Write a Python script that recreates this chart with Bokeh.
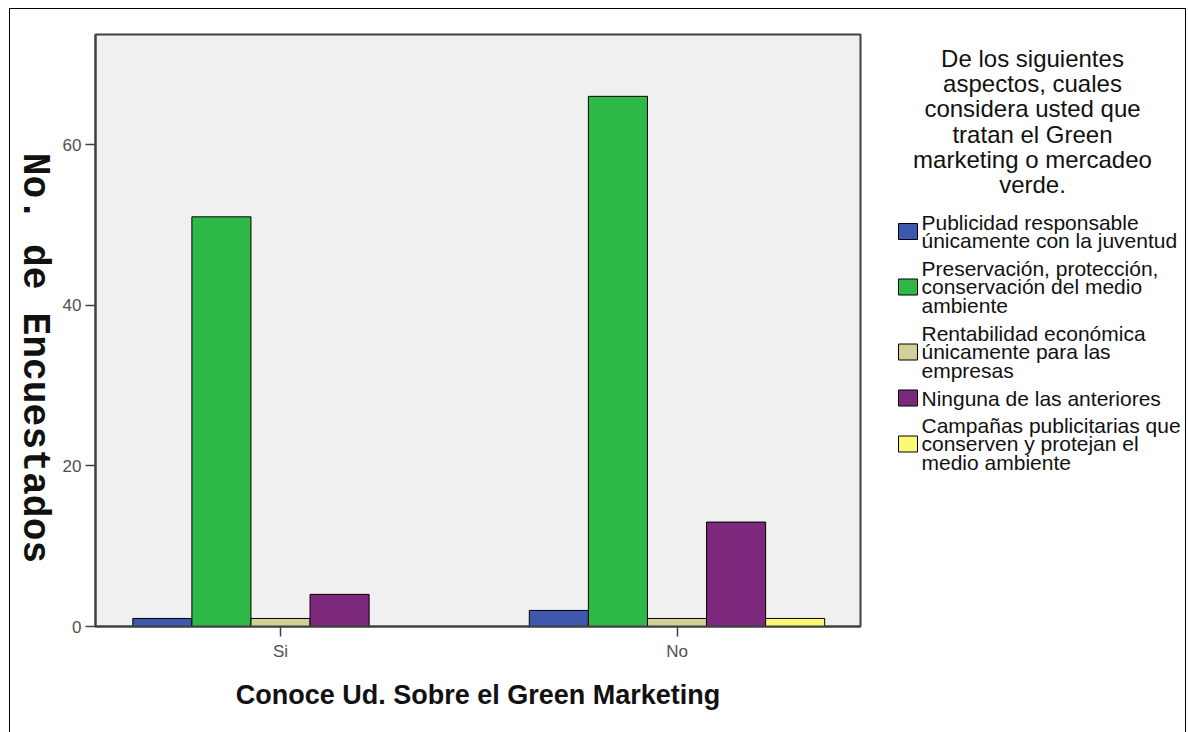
from bokeh.plotting import figure
from bokeh.models import Range1d, FixedTicker, Label
from bokeh.layouts import row
from bokeh.core.properties import value
from bokeh.embed import file_html
from bokeh.resources import INLINE
import math

# ---- data ----
categories = ["Si", "No"]
series_labels = [
    "Publicidad responsable\núnicamente con la juventud",
    "Preservación, protección,\nconservación del medio\nambiente",
    "Rentabilidad económica\núnicamente para las\nempresas",
    "Ninguna de las anteriores",
    "Campañas publicitarias que\nconserven y protejan el\nmedio ambiente",
]
publicidad = [1, 2]
preservacion = [51, 66]
rentabilidad = [1, 1]
ninguna = [4, 13]
campanas = [0, 1]
series_values = [publicidad, preservacion, rentabilidad, ninguna, campanas]
colors = ["#3E58AC", "#2EB848", "#D4CE98", "#7B287D", "#FBF873"]
y_ticks = [0, 20, 40, 60]
x_title = "Conoce Ud. Sobre el Green Marketing"
y_title = "No. de Encuestados"
legend_title = "De los siguientes\naspectos, cuales\nconsidera usted que\ntratan el Green\nmarketing o mercadeo\nverde."

FT, FB = 25, 109  # common top/bottom borders so that all frames align


def blank_panel(width, x0, x1):
    f = figure(width=width, height=726, x_range=Range1d(x0, x1), y_range=Range1d(626, 34),
               output_backend="svg", toolbar_location=None,
               min_border_left=0, min_border_right=0, min_border_top=FT, min_border_bottom=FB)
    f.axis.visible = False
    f.grid.visible = False
    f.outline_line_color = None
    f.background_fill_color = "white"
    f.border_fill_color = "white"
    return f


# ---- y title panel ----
ypanel = blank_panel(45, 10, 55)
ypanel.add_layout(Label(x=33.5, y=357.5, text=y_title, angle=-math.pi / 2,
                        text_align="center", text_baseline="middle",
                        text_font="Liberation Mono", text_font_style="bold",
                        text_font_size="38px", text_color="#111111"))

# ---- main plot ----
bar_w = 0.149
p = figure(width=825, height=726,
           x_range=Range1d(0.5334, 2.4628), y_range=Range1d(0, 73.7),
           output_backend="svg", toolbar_location=None,
           min_border_left=40, min_border_top=FT, min_border_right=20, min_border_bottom=FB)
p.background_fill_color = "#F0F0F0"
p.border_fill_color = "white"
p.outline_line_color = "#404040"
p.outline_line_width = 2
p.grid.visible = False

n = len(series_values)
for i, (vals, col) in enumerate(zip(series_values, colors)):
    xs = [j + 1 + (i - (n - 1) / 2) * bar_w for j in range(len(categories))]
    p.vbar(x=xs, top=vals, width=bar_w, fill_color=col, line_color="black", line_width=1)

p.xaxis.ticker = FixedTicker(ticks=[j + 1 for j in range(len(categories))])
p.xaxis.major_label_overrides = {j + 1: c for j, c in enumerate(categories)}
p.yaxis.ticker = FixedTicker(ticks=y_ticks)
for ax in (p.xaxis, p.yaxis):
    ax.axis_line_color = "#404040"
    ax.axis_line_width = 2
    ax.major_tick_line_color = "#404040"
    ax.major_tick_line_width = 1.5
    ax.major_tick_in = 0
    ax.major_tick_out = 10
    ax.minor_tick_line_color = None
    ax.major_label_text_font = "Liberation Sans"
    ax.major_label_text_font_size = "17px"
    ax.major_label_text_color = "#505050"
p.xaxis.major_label_standoff = 5
p.yaxis.major_label_standoff = 4

p.xaxis.axis_label = x_title
p.xaxis.axis_label_text_font = "Liberation Sans"
p.xaxis.axis_label_text_font_style = "bold"
p.xaxis.axis_label_text_font_size = "27px"
p.xaxis.axis_label_text_color = "#111111"
p.xaxis.axis_label_standoff = 16

# ---- legend panel ----
leg = blank_panel(305, 880, 1185)
leg.text(x=[1032], y=[121], text=[legend_title], text_align="center", text_baseline="middle",
         text_font=value("Liberation Sans"), text_font_size="24px",
         text_line_height=0.93, text_color="#111111")

line_h = 19
gap = 8
top = 212
centers = []
for lab in series_labels:
    nl = lab.count("\n") + 1
    centers.append(top + nl * line_h / 2)
    top += nl * line_h + gap

leg.rect(x=[907.5] * len(colors), y=centers, width=19, height=16,
         fill_color=colors, line_color="black", line_width=1)
leg.text(x=[921] * len(series_labels), y=centers, text=series_labels,
         text_align="left", text_baseline="middle",
         text_font=value("Liberation Sans"), text_font_size="21px",
         text_line_height=0.82, text_color="#111111")

layout = row(ypanel, p, leg, margin=(8, 0, 0, 9),
             styles={"border-left": "1px solid black", "border-top": "1px solid black",
                     "border-right": "1px solid black"})

open("out.html", "w").write(file_html(layout, INLINE))
